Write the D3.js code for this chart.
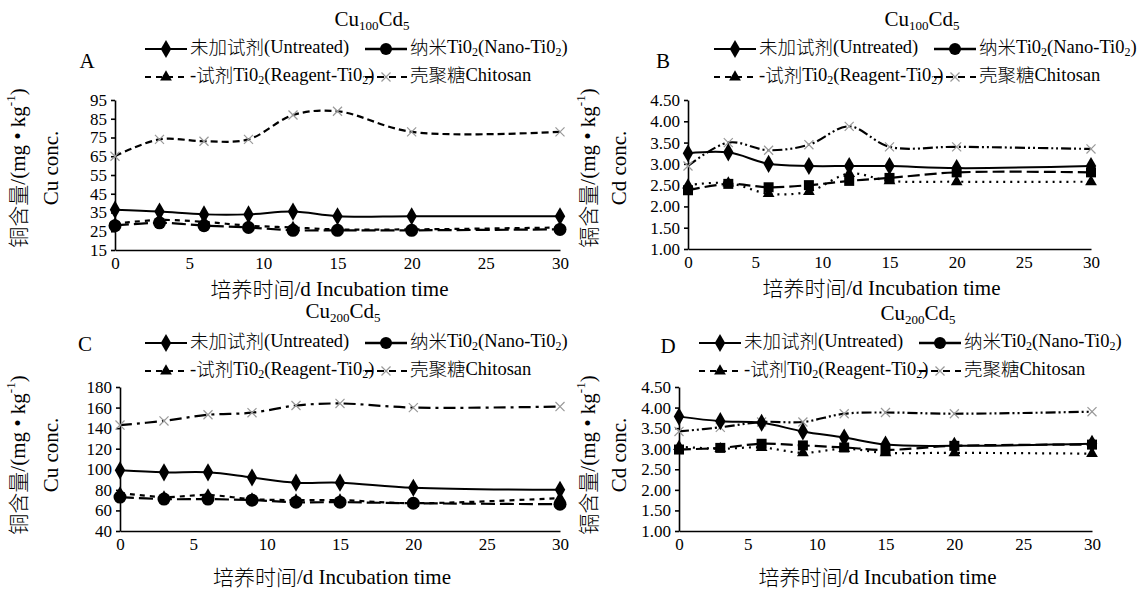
<!DOCTYPE html>
<html>
<head>
<meta charset="utf-8">
<script src="https://cdn.jsdelivr.net/npm/d3@7"></script>
<style>
body { margin: 0; background: #fff; }
text { font-family: "Liberation Serif", serif; fill: #000; }
</style>
</head>
<body>
<script>
var days = [0, 3, 6, 9, 12, 15, 20, 30];
var xTicks = [0, 5, 10, 15, 20, 25, 30];
var cuTicksA = [15, 25, 35, 45, 55, 65, 75, 85, 95];
var cuTicksC = [40, 60, 80, 100, 120, 140, 160, 180];
var cdTicks = [1.00, 1.50, 2.00, 2.50, 3.00, 3.50, 4.00, 4.50];

// panel A  Cu, Cu100Cd5
var aUntreated = [36.5, 35.5, 34, 34, 35.5, 33, 33, 33];
var aNano = [28, 29.5, 28, 27, 25.5, 25.5, 25.5, 26];
var aReagent = [29, 31, 30, 28, 27, 26, 26, 27];
var aChitosan = [65, 74, 73, 74, 87, 89, 78, 78];
// panel B  Cd, Cu100Cd5
var bUntreated = [3.25, 3.27, 3.0, 2.95, 2.95, 2.95, 2.9, 2.95];
var bNano = [2.38, 2.53, 2.45, 2.5, 2.6, 2.67, 2.8, 2.8];
var bReagent = [2.5, 2.55, 2.3, 2.35, 2.77, 2.6, 2.58, 2.58];
var bChitosan = [2.95, 3.5, 3.32, 3.45, 3.88, 3.4, 3.4, 3.35];
// panel C  Cu, Cu200Cd5
var cUntreated = [99, 97, 97, 92, 87, 87, 82, 80];
var cNano = [73, 71, 71, 70, 68, 68, 67, 66];
var cReagent = [77, 73, 75, 71, 70, 70, 67, 72];
var cChitosan = [143, 147, 153, 155, 162, 164, 160, 161];
// panel D  Cd, Cu200Cd5
var dUntreated = [3.78, 3.67, 3.63, 3.42, 3.27, 3.1, 3.07, 3.12];
var dNano = [2.98, 3.02, 3.12, 3.08, 3.03, 2.97, 3.07, 3.1];
var dReagent = [3.05, 3.0, 3.03, 2.9, 3.0, 2.9, 2.9, 2.88];
var dChitosan = [3.42, 3.52, 3.65, 3.65, 3.85, 3.88, 3.85, 3.9];

var width = 1142, height = 591;

var svg = d3.select("body").append("svg")
    .attr("width", width)
    .attr("height", height);

var panels = [
    { letter: "A", sub: "100", metal: "Cu", yLabel: "铜含量", ticks: cuTicksA, fmt: d3.format("d"),
      x0: 115, x1: 560, yTop: 100, yBot: 250, titleX: 372, titleY: 21, legX: 145, legY: 49, letX: 87, letY: 63,
      ylabX: 20, ylab2X: 53, ylabY: 168, xTitleY: 291,
      series: [aUntreated, aNano, aReagent, aChitosan],
      dashes: [null, "14,5", "5,5", "7,4"], nanoShape: "circle" },
    { letter: "B", sub: "100", metal: "Cd", yLabel: "镉含量", ticks: cdTicks, fmt: d3.format(".2f"),
      x0: 688, x1: 1091, yTop: 100, yBot: 249, titleX: 922, titleY: 21, legX: 714, legY: 49, letX: 663, letY: 63,
      ylabX: 590, ylab2X: 621, ylabY: 168, xTitleY: 290,
      series: [bUntreated, bNano, bReagent, bChitosan],
      dashes: [null, "12,5", "2,5", "10,3,2,3,2,3"], nanoShape: "square" },
    { letter: "C", sub: "200", metal: "Cu", yLabel: "铜含量", ticks: cuTicksC, fmt: d3.format("d"),
      x0: 120, x1: 560, yTop: 387, yBot: 531, titleX: 343, titleY: 313, legX: 145, legY: 343, letX: 85, letY: 346,
      ylabX: 20, ylab2X: 53, ylabY: 455, xTitleY: 579,
      series: [cUntreated, cNano, cReagent, cChitosan],
      dashes: [null, "14,5", "5,5", "12,5,3,5"], nanoShape: "circle" },
    { letter: "D", sub: "200", metal: "Cd", yLabel: "镉含量", ticks: cdTicks, fmt: d3.format(".2f"),
      x0: 679, x1: 1092, yTop: 387, yBot: 531, titleX: 918, titleY: 315, legX: 699, legY: 343, letX: 668, letY: 348,
      ylabX: 590, ylab2X: 621, ylabY: 455, xTitleY: 579,
      series: [dUntreated, dNano, dReagent, dChitosan],
      dashes: [null, "12,5", "2,5", "10,3,2,3,2,3"], nanoShape: "square" }
];

// split a string into CJK / latin runs so each gets its own font
function addRuns (t, str, dy) {
    var first = true;
    str.split(/([\u3000-\u9fff]+)/).forEach(function (s) {
        if (!s) return;
        var sp = t.append("tspan").text(s);
        if (first && dy) sp.attr("dy", dy);
        first = false;
        if (/[\u3000-\u9fff]/.test(s)) sp.style("font-family", "'Noto Sans CJK SC'").style("font-weight", "300");
        else sp.style("font-family", "'Liberation Serif'");
    });
}
// subscript / superscript; the following run passes -dy to come back
function addSub (t, s, size, dy) {
    t.append("tspan").style("font-family", "'Liberation Serif'").attr("font-size", size).attr("dy", dy).text(s);
    return -dy;
}

function drawMarker (g, kind, cx, cy) {
    if (kind === "diamond") {
        g.append("path").attr("d", d3.symbol(d3.symbolDiamond, 95)())
            .attr("transform", "translate(" + cx + "," + cy + ")").attr("fill", "#000");
    } else if (kind === "circle") {
        g.append("circle").attr("cx", cx).attr("cy", cy).attr("r", 6.5).attr("fill", "#000");
    } else if (kind === "square") {
        g.append("rect").attr("x", cx - 5).attr("y", cy - 5).attr("width", 10).attr("height", 10).attr("fill", "#000");
    } else if (kind === "triangle") {
        g.append("path").attr("d", d3.symbol(d3.symbolTriangle, 60)())
            .attr("transform", "translate(" + cx + "," + cy + ")").attr("fill", "#000");
    } else {
        g.append("path").attr("d", d3.symbol(d3.symbolTimes, 55)())
            .attr("transform", "translate(" + cx + "," + cy + ")")
            .attr("fill", "none").attr("stroke", "#999").attr("stroke-width", 1.2);
    }
}

function drawPanel (p) {
    var g = svg.append("g");
    var x = d3.scaleLinear().domain([0, 30]).range([p.x0, p.x1]);
    var y = d3.scaleLinear().domain([p.ticks[0], p.ticks[p.ticks.length - 1]]).range([p.yBot, p.yTop]);

    // axes
    var yAxis = g.append("g").attr("transform", "translate(" + p.x0 + ",0)")
        .call(d3.axisLeft(y).tickValues(p.ticks).tickFormat(p.fmt).tickSize(4).tickSizeOuter(0).tickPadding(4));
    var xAxis = g.append("g").attr("transform", "translate(0," + p.yBot + ")")
        .call(d3.axisBottom(x).tickValues(xTicks).tickSize(0).tickPadding(7));
    [yAxis, xAxis].forEach(function (a) {
        a.selectAll("path, line").attr("stroke", "#000").attr("stroke-width", 1.6);
        a.selectAll("text").style("font-family", "'Liberation Serif'").style("font-size", "17px").attr("fill", "#000");
    });

    // lines, chitosan first so untreated sits on top
    var markers = ["diamond", p.nanoShape, "triangle", "times"];
    [3, 2, 1, 0].forEach(function (k) {
        var pts = days.map(function (d, i) { return [x(d), y(p.series[k][i])]; });
        var line = d3.line().curve(d3.curveCatmullRom.alpha(0.5));
        g.append("path").attr("d", line(pts))
            .attr("fill", "none").attr("stroke", "#000")
            .attr("stroke-width", k === 0 ? 2 : 2.2)
            .attr("stroke-dasharray", p.dashes[k]);
        pts.forEach(function (pt) { drawMarker(g, markers[k], pt[0], pt[1]); });
    });

    // title
    var t = g.append("text").attr("x", p.titleX).attr("y", p.titleY).attr("text-anchor", "middle")
        .attr("dominant-baseline", "middle").style("font-size", "21px");
    t.append("tspan").text("Cu");
    t.append("tspan").attr("font-size", "13px").attr("dy", 6).text(p.sub);
    t.append("tspan").attr("dy", -6).text("Cd");
    t.append("tspan").attr("font-size", "13px").attr("dy", 6).text("5");

    g.append("text").attr("x", p.letX).attr("y", p.letY).attr("text-anchor", "middle")
        .attr("dominant-baseline", "middle").style("font-size", "21px").text(p.letter);

    // legend
    var legItems = [
        { dx: 0, dy: 0, dash: null, marker: "diamond", w: 2 },
        { dx: 220, dy: 0, dash: null, marker: "circle", w: 2.6 },
        { dx: 0, dy: 28, dash: "6,5", marker: "triangle", w: 2.2 },
        { dx: 220, dy: 28, dash: "7,5", marker: "times", w: 2.2 }
    ];
    legItems.forEach(function (it, i) {
        var lx = p.legX + it.dx, ly = p.legY + it.dy;
        g.append("line").attr("x1", lx).attr("x2", lx + 42).attr("y1", ly).attr("y2", ly)
            .attr("stroke", "#000").attr("stroke-width", it.w).attr("stroke-dasharray", it.dash);
        if (it.marker === "circle") {
            g.append("circle").attr("cx", lx + 21).attr("cy", ly).attr("r", 6).attr("fill", "#000");
        } else {
            drawMarker(g, it.marker, lx + 21, ly);
        }
        var tx = g.append("text").attr("x", lx + 45).attr("y", ly).attr("dominant-baseline", "middle")
            .style("font-size", "18.5px");
        var back;
        if (i === 0) addRuns(tx, "未加试剂(Untreated)");
        if (i === 1) {
            addRuns(tx, "纳米Ti0"); back = addSub(tx, "2", "12px", 4);
            addRuns(tx, "(Nano-Ti0", back); back = addSub(tx, "2", "12px", 4);
            addRuns(tx, ")", back);
        }
        if (i === 2) {
            addRuns(tx, "-试剂Ti0"); back = addSub(tx, "2", "12px", 4);
            addRuns(tx, "(Reagent-Ti0", back); back = addSub(tx, "2", "12px", 4);
            addRuns(tx, ")", back);
        }
        if (i === 3) addRuns(tx, "壳聚糖Chitosan");
    });

    // axis titles
    var xt = g.append("text").attr("x", (p.x0 + p.x1) / 2 - 8).attr("y", p.xTitleY).attr("text-anchor", "middle")
        .attr("dominant-baseline", "middle").style("font-size", "21px");
    addRuns(xt, "培养时间/d Incubation time");

    var yl = g.append("text").attr("transform", "translate(" + p.ylabX + "," + p.ylabY + ") rotate(-90)")
        .attr("text-anchor", "middle").attr("dominant-baseline", "middle").style("font-size", "21px");
    addRuns(yl, p.yLabel + "/(mg • kg");
    var up = addSub(yl, "-1", "13px", -8);
    addRuns(yl, ")", up);

    g.append("text").attr("transform", "translate(" + p.ylab2X + "," + p.ylabY + ") rotate(-90)")
        .attr("text-anchor", "middle").attr("dominant-baseline", "middle").style("font-size", "21px")
        .text(p.metal + " conc.");
}

panels.forEach(drawPanel);
</script>
</body>
</html>
